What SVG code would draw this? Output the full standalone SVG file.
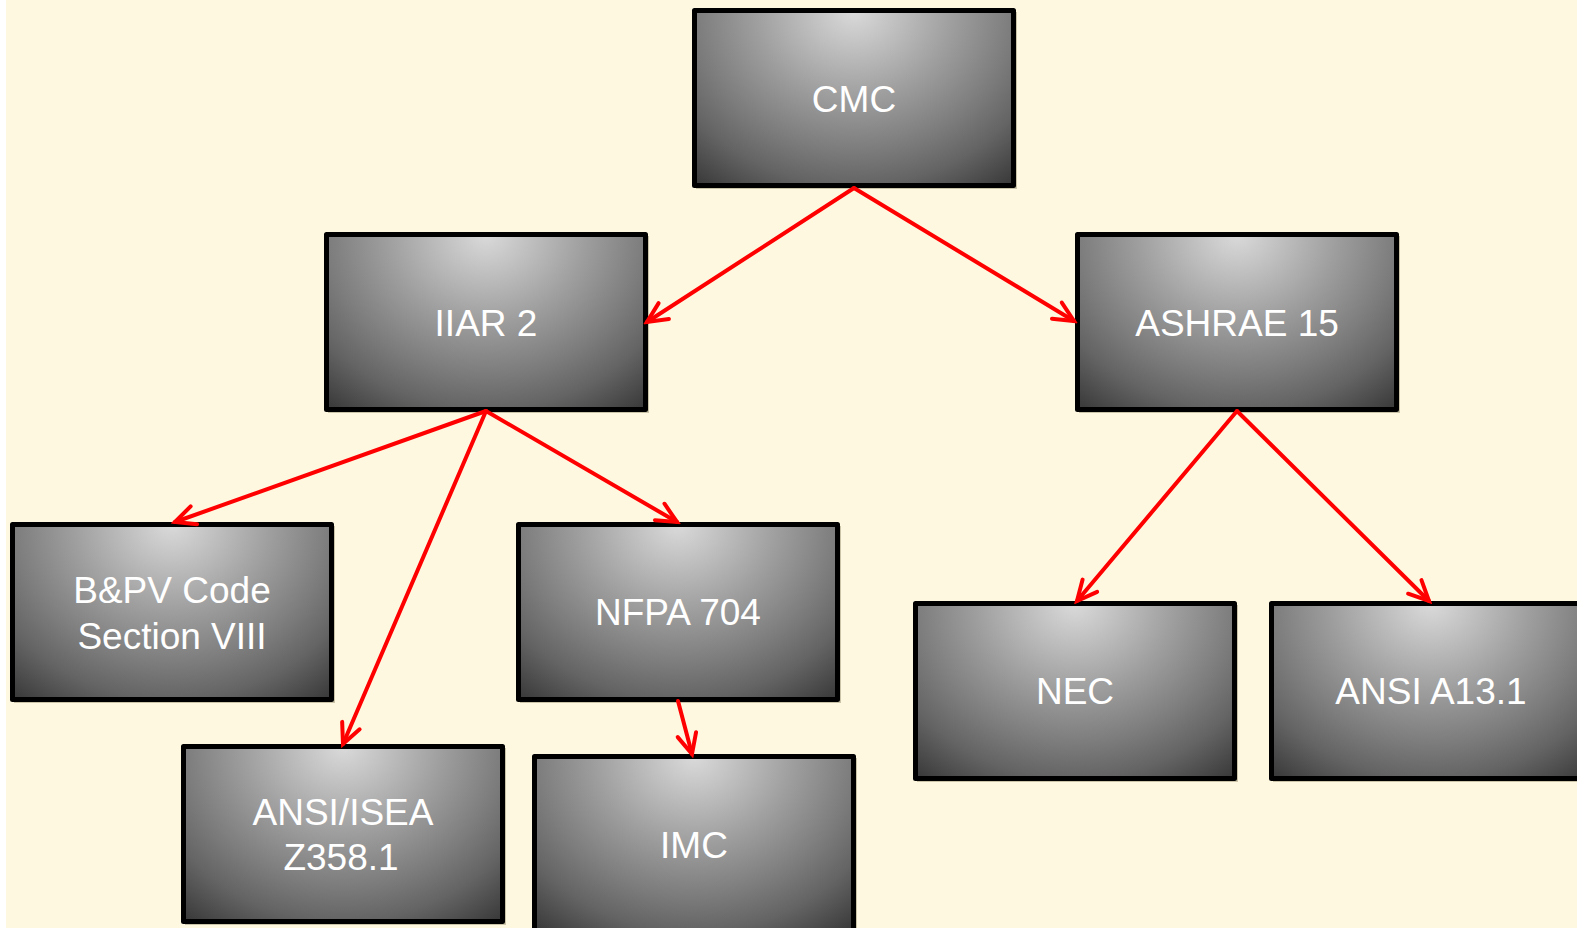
<svg xmlns="http://www.w3.org/2000/svg" width="1577" height="928" viewBox="0 0 1577 928">
<defs>
<radialGradient id="g" cx="0.5" cy="0" r="0.78" gradientUnits="objectBoundingBox" gradientTransform="translate(0.5 0) scale(1 1.6) translate(-0.5 0)">
<stop offset="0" stop-color="#DADADA"/>
<stop offset="0.4" stop-color="#9E9E9E"/>
<stop offset="0.64" stop-color="#7C7C7C"/>
<stop offset="0.8" stop-color="#646464"/>
<stop offset="1" stop-color="#3C3C3C"/>
</radialGradient>
<marker id="arr" viewBox="-26 -14 30 28" refX="0" refY="0" markerWidth="30" markerHeight="28" markerUnits="userSpaceOnUse" orient="auto">
<path d="M-20,-9.5 L0,0 L-20,9.5" fill="none" stroke="#FF0000" stroke-width="4" stroke-linecap="round" stroke-linejoin="miter"/>
</marker>
</defs>
<style>
.box{fill:url(#g);stroke:#000;stroke-width:5;stroke-linejoin:round}
.sh{fill:#9a9070;opacity:0.5}
.t{font-family:"Liberation Sans",Arial,sans-serif;font-size:37px;fill:#FFFFFF;text-anchor:middle}
.c{fill:none;stroke:#FF0000;stroke-width:4;stroke-linecap:round;marker-end:url(#arr)}
</style>
<rect x="0" y="0" width="1577" height="928" fill="#FFFFFF"/>
<rect x="6" y="0" width="1571" height="928" fill="#FEF8E0"/>

<g id="cmc">
<rect class="sh" x="696" y="12" width="321" height="177"/>
<rect class="box" x="694.5" y="10.5" width="319" height="175"/>
<text class="t" x="854" y="112">CMC</text>
</g>
<g id="iiar2">
<rect class="sh" x="328" y="236" width="321" height="177"/>
<rect class="box" x="326.5" y="234.5" width="319" height="175"/>
<text class="t" x="486" y="336">IIAR 2</text>
</g>
<g id="ashrae15">
<rect class="sh" x="1079" y="236" width="321" height="177"/>
<rect class="box" x="1077.5" y="234.5" width="319" height="175"/>
<text class="t" x="1237" y="336">ASHRAE 15</text>
</g>
<g id="bpv">
<rect class="sh" x="14" y="526" width="321" height="177"/>
<rect class="box" x="12.5" y="524.5" width="319" height="175"/>
<text class="t" x="172" y="603">B&amp;PV Code</text>
<text class="t" x="172" y="649">Section VIII</text>
</g>
<g id="nfpa704">
<rect class="sh" x="520" y="526" width="321" height="177"/>
<rect class="box" x="518.5" y="524.5" width="319" height="175"/>
<text class="t" x="678" y="625">NFPA 704</text>
</g>
<g id="nec">
<rect class="sh" x="917" y="605" width="321" height="177"/>
<rect class="box" x="915.5" y="603.5" width="319" height="175"/>
<text class="t" x="1075" y="704">NEC</text>
</g>
<g id="ansia131">
<rect class="sh" x="1273" y="605" width="321" height="177"/>
<rect class="box" x="1271.5" y="603.5" width="319" height="175"/>
<text class="t" x="1431" y="704">ANSI A13.1</text>
</g>
<g id="ansiisea">
<rect class="sh" x="185" y="748" width="321" height="177"/>
<rect class="box" x="183.5" y="746.5" width="319" height="175"/>
<text class="t" x="343" y="825">ANSI/ISEA</text>
<text class="t" x="341" y="870">Z358.1</text>
</g>
<g id="imc">
<rect class="sh" x="536" y="758" width="321" height="177"/>
<rect class="box" x="534.5" y="756.5" width="319" height="175"/>
<text class="t" x="694" y="858">IMC</text>
</g>

<g id="connectors">
<line class="c" x1="854" y1="188" x2="647" y2="322"/>
<line class="c" x1="854" y1="188" x2="1074" y2="321"/>
<line class="c" x1="486" y1="411" x2="175" y2="522"/>
<line class="c" x1="486" y1="411" x2="343" y2="744"/>
<line class="c" x1="486" y1="411" x2="677" y2="522"/>
<line class="c" x1="678" y1="701" x2="692" y2="754"/>
<line class="c" x1="1237" y1="411" x2="1077" y2="601"/>
<line class="c" x1="1237" y1="411" x2="1429" y2="601"/>
</g>
</svg>
